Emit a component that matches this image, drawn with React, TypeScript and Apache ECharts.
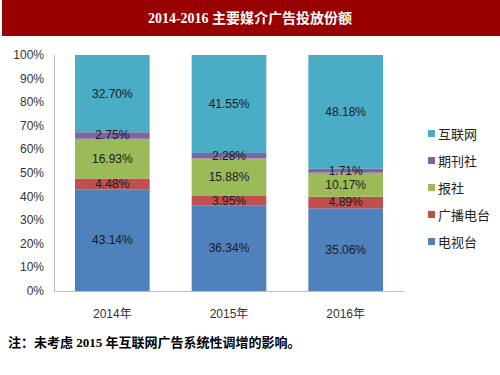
import React, { useEffect, useRef } from "react";
import * as echarts from "echarts";

const categories = ["2014年", "2015年", "2016年"];
const seriesNames = ["电视台", "广播电台", "报社", "期刊社", "互联网"];
const tvValues = [43.14, 36.34, 35.06];
const radioValues = [4.48, 3.95, 4.89];
const newspaperValues = [16.93, 15.88, 10.17];
const magazineValues = [2.75, 2.28, 1.71];
const internetValues = [32.7, 41.55, 48.18];
const seriesValues = [tvValues, radioValues, newspaperValues, magazineValues, internetValues];
const colors = ["#4F81BD", "#C0504D", "#9BBB59", "#8064A2", "#4BACC6"];
const legendOrder = ["互联网", "期刊社", "报社", "广播电台", "电视台"];
const titleText = "2014-2016 主要媒介广告投放份额";
const noteText = "注：未考虑 2015 年互联网广告系统性调增的影响。";

const labelFont = "'Liberation Sans Narrow', 'Liberation Sans', 'Noto Sans CJK SC', sans-serif";

export default function App() {
  const ref = useRef<HTMLDivElement>(null);
  useEffect(() => {
    if (!ref.current) return;
    const chart = echarts.init(ref.current, undefined, { renderer: "svg" });
    chart.setOption({
      animation: false,
      backgroundColor: "#ffffff",
      textStyle: { fontFamily: labelFont },
      graphic: [
        {
          type: "rect",
          shape: { x: 2, y: 0, width: 498, height: 36 },
          style: { fill: "#990000" },
          silent: true,
        },
        {
          type: "text",
          x: 250,
          y: 18,
          style: {
            text: titleText,
            fill: "#ffffff",
            font: "bold 14px 'Liberation Serif', 'Noto Sans CJK SC', serif",
            align: "center",
            verticalAlign: "middle",
          },
        },
        {
          type: "text",
          x: 8,
          y: 342,
          style: {
            text: noteText,
            fill: "#000000",
            font: "bold 13px 'Liberation Serif', 'Noto Sans CJK SC', serif",
            align: "left",
            verticalAlign: "middle",
          },
        },
      ],
      legend: {
        orient: "vertical",
        left: 423,
        top: 122,
        itemWidth: 7,
        itemHeight: 7,
        itemGap: 14,
        icon: "rect",
        data: legendOrder,
        textStyle: { fontSize: 13, color: "#222", fontFamily: "'Noto Sans CJK SC', sans-serif", padding: [0, 0, 0, -2] },
      },
      grid: { left: 54, right: 96, top: 55, bottom: 84, containLabel: false },
      xAxis: {
        type: "category",
        data: categories,
        axisLine: { lineStyle: { color: "#BFBFBF" } },
        axisTick: { show: false },
        axisLabel: { color: "#333", fontSize: 12, margin: 17, fontFamily: labelFont },
      },
      yAxis: {
        type: "value",
        min: 0,
        max: 100,
        interval: 10,
        axisLine: { show: true, lineStyle: { color: "#BFBFBF" } },
        axisTick: { show: false },
        splitLine: { show: false },
        axisLabel: { color: "#333", fontSize: 12, margin: 10, formatter: "{value}%", fontFamily: labelFont },
      },
      series: seriesNames.map((name, i) => ({
        name,
        type: "bar",
        stack: "total",
        barWidth: "64%",
        itemStyle: { color: colors[i] },
        data: seriesValues[i],
        label: {
          show: true,
          position: "inside",
          color: "#1a1a1a",
          fontSize: 12,
          fontFamily: labelFont,
          formatter: (p: any) => p.value.toFixed(2) + "%",
        },
      })),
    });
    return () => chart.dispose();
  }, []);
  return (
    <div
      ref={ref}
      style={{ position: "fixed", left: 0, top: 0, width: 500, height: 375 }}
    />
  );
}
